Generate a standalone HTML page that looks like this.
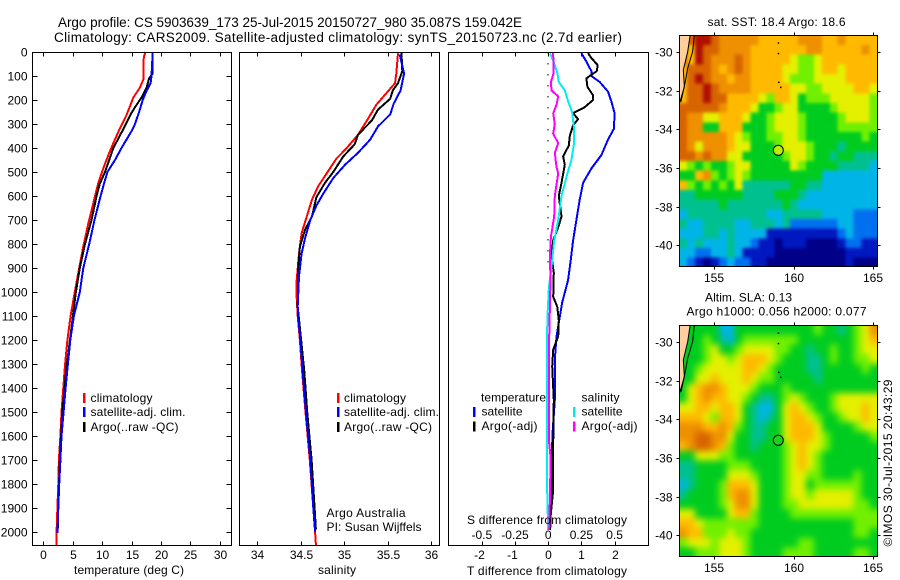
<!DOCTYPE html>
<html lang="en">
<head>
<meta charset="utf-8">
<title>Argo profile 5903639_173</title>
<style>
html,body{margin:0;padding:0;background:#fff;}
svg{display:block;}
text{font-family:"Liberation Sans",Arial,sans-serif;font-size:12px;fill:#000;}
.lg{font-size:12px;}
.crisp{shape-rendering:crispEdges;}
</style>
</head>
<body>
<svg id="chart" xmlns="http://www.w3.org/2000/svg" width="900" height="580" viewBox="0 0 900 580">
  <rect x="0" y="0" width="900" height="580" fill="#fff"/>
  <defs>
    <clipPath id="clip-sst"><rect x="679.5" y="35.5" width="198" height="231"/></clipPath>
    <clipPath id="clip-sla"><rect x="679.5" y="325.5" width="198" height="231"/></clipPath>
    <filter id="soft-sst" x="-5%" y="-5%" width="110%" height="110%" color-interpolation-filters="sRGB"><feGaussianBlur stdDeviation="1.6"/></filter>
    <filter id="soft-sla" x="-5%" y="-5%" width="110%" height="110%" color-interpolation-filters="sRGB"><feGaussianBlur stdDeviation="3.5"/></filter>
  </defs>

  <text x="58" y="27" style="font-size:13.5px" textLength="464" lengthAdjust="spacing">Argo profile: CS 5903639_173 25-Jul-2015 20150727_980 35.087S 159.042E</text>
  <text x="54" y="42" style="font-size:13.5px" textLength="568" lengthAdjust="spacing">Climatology: CARS2009. Satellite-adjusted climatology: synTS_20150723.nc (2.7d earlier)</text>

  <g id="panels"></g>
  <g id="maps"></g>

  <text x="74" y="574" textLength="110" lengthAdjust="spacing">temperature (deg C)</text>
  <text x="318" y="574" textLength="38" lengthAdjust="spacing">salinity</text>
  <text x="467" y="575" textLength="160" lengthAdjust="spacing">T difference from climatology</text>
  <text x="467" y="524" textLength="160" lengthAdjust="spacing">S difference from climatology</text>

  <g>
    <rect class="crisp" x="83" y="393" width="2.5" height="10" fill="#f00"/>
    <rect class="crisp" x="83" y="407" width="2.5" height="10" fill="#00f"/>
    <rect class="crisp" x="83" y="422" width="2.5" height="10" fill="#000"/>
    <text x="90.5" y="402" textLength="62" lengthAdjust="spacing">climatology</text>
    <text x="90.5" y="416" textLength="95" lengthAdjust="spacing">satellite-adj. clim.</text>
    <text x="90.5" y="431" textLength="88" lengthAdjust="spacing">Argo(..raw -QC)</text>
  </g>
  <g>
    <rect class="crisp" x="337" y="393" width="2.5" height="10" fill="#f00"/>
    <rect class="crisp" x="337" y="407" width="2.5" height="10" fill="#00f"/>
    <rect class="crisp" x="337" y="422" width="2.5" height="10" fill="#000"/>
    <text x="344" y="402" textLength="62" lengthAdjust="spacing">climatology</text>
    <text x="344" y="416" textLength="95" lengthAdjust="spacing">satellite-adj. clim.</text>
    <text x="344" y="431" textLength="88" lengthAdjust="spacing">Argo(..raw -QC)</text>
  </g>
  <text x="326.5" y="517" textLength="79" lengthAdjust="spacing">Argo Australia</text>
  <text x="326.5" y="531" textLength="95" lengthAdjust="spacing">PI: Susan Wijffels</text>

  <g>
    <text x="481" y="401.5" textLength="65" lengthAdjust="spacing">temperature</text>
    <rect class="crisp" x="473" y="407" width="2.5" height="10" fill="#00f"/>
    <rect class="crisp" x="473" y="421.5" width="2.5" height="10" fill="#000"/>
    <text x="481.5" y="415.5" textLength="41" lengthAdjust="spacing">satellite</text>
    <text x="481.5" y="430" textLength="56" lengthAdjust="spacing">Argo(-adj)</text>
    <text x="581.5" y="401.5" textLength="38" lengthAdjust="spacing">salinity</text>
    <rect class="crisp" x="573" y="407" width="2.5" height="10" fill="#00e8e8"/>
    <rect class="crisp" x="573" y="421.5" width="2.5" height="10" fill="#f0f"/>
    <text x="581.5" y="415.5" textLength="41" lengthAdjust="spacing">satellite</text>
    <text x="581.5" y="430" textLength="56" lengthAdjust="spacing">Argo(-adj)</text>
  </g>

  <text x="707.5" y="26" textLength="138" lengthAdjust="spacing">sat. SST: 18.4  Argo: 18.6</text>
  <text x="705" y="301.5" textLength="87" lengthAdjust="spacing">Altim. SLA: 0.13</text>
  <text x="686.5" y="315.5" textLength="180" lengthAdjust="spacing">Argo h1000: 0.056 h2000: 0.077</text>
  <text transform="translate(892,546.5) rotate(-90)" textLength="167" lengthAdjust="spacing">©IMOS 30-Jul-2015 20:43:29</text>
</svg>

<script>
// ---------- Profile data: depth (dbar) and matching values ----------
const depthTicks = [0,100,200,300,400,500,600,700,800,900,1000,1100,1200,1300,1400,1500,1600,1700,1800,1900,2000];
const tempTicks = [0,5,10,15,20,25,30];
const salTicks = [34,34.5,35,35.5,36];
const salTickLabels = ['34','34.5','35','35.5','36'];
const tDiffTicks = [-2,-1,0,1,2];
const sDiffTicks = [-0.5,-0.25,0,0.25,0.5];
const sDiffTickLabels = ['-0.5','-0.25','0','0.25','0.5'];

const tempClimDepth = [0,20,115,150,190,260,320,380,430,485,545,630,715,810,920,1020,1100,1200,1300,1400,1500,1600,1700,1800,1900,2000,2054];
const tempClim = [17.4,17.1,17.0,16.4,15.3,14.2,13.0,11.9,11.05,10.2,9.35,8.5,7.65,6.8,5.95,5.2,4.65,4.1,3.7,3.4,3.1,2.9,2.66,2.55,2.4,2.27,2.27];
const tempSatDepth = [0,100,130,160,200,250,300,330,400,450,500,550,600,700,800,900,1000,1100,1200,1325,1400,1500,1600,1700,1800,1900,2005];
const tempSat = [18.6,18.4,18.25,17.6,16.9,16.3,15.6,15.0,13.3,12.2,10.9,10.3,9.75,8.7,7.8,6.8,6.2,5.2,4.6,4.08,3.8,3.45,3.1,2.9,2.7,2.55,2.4];
const tempArgoDepth = [0,90,110,150,190,230,260,300,350,400,450,500,550,600,700,800,900,1000,1325,1500,1700,1900,1995];
const tempArgo = [18.6,18.6,18.0,17.55,16.7,15.6,14.85,14.05,13.0,11.9,11.2,10.5,9.6,9.07,8.2,7.1,6.2,5.55,3.9,3.25,2.8,2.55,2.45];

const salClimDepth = [5,90,130,170,220,275,345,400,445,505,560,615,685,755,840,965,1000,1100,1200,1325,1500,1700,1900,2000,2054];
const salClim = [35.62,35.60,35.585,35.49,35.37,35.28,35.16,35.03,34.91,34.80,34.70,34.63,34.57,34.51,34.48,34.45,34.45,34.465,34.49,34.515,34.555,34.605,34.645,34.665,34.675];
const salSatDepth = [10,90,160,215,260,310,365,420,470,525,590,640,700,775,840,935,1060,1100,1200,1325,1500,1700,1900,2000];
const salSat = [35.64,35.69,35.65,35.57,35.53,35.39,35.30,35.16,35.01,34.875,34.76,34.68,34.61,34.55,34.51,34.48,34.465,34.47,34.495,34.52,34.56,34.61,34.645,34.665];
const salArgoDepth = [5,80,130,160,195,240,285,345,385,435,500,545,605,685,740,810,910,1060,1325,1500,1700,1900,1990];
const salArgo = [35.66,35.67,35.62,35.56,35.53,35.39,35.32,35.16,35.12,34.99,34.875,34.78,34.68,34.63,34.55,34.49,34.47,34.465,34.54,34.575,34.625,34.66,34.675];

const dtSatDepth = [5,40,80,100,125,165,205,255,320,365,430,485,545,615,700,785,865,950,1045,1103,1185,1283,1450,1590,1728,1867,1992];
const dtSat = [1.0,1.15,1.3,1.3,1.55,1.8,1.9,2.0,1.98,1.8,1.6,1.3,1.05,0.95,0.85,0.75,0.68,0.6,0.42,0.35,0.25,0.2,0.2,0.13,0.1,0.08,0.06];
const dtArgoDepth = [5,25,55,80,95,110,145,180,200,230,255,280,305,350,390,435,470,545,600,685,730,785,850,920,1020,1061,1117,1185,1240,1310,1450,1630,1825,1920,1990];
const dtArgo = [1.2,1.3,1.49,1.46,1.3,1.15,1.18,1.35,1.35,1.1,0.75,0.9,0.75,0.65,0.62,0.45,0.5,0.4,0.32,0.4,0.3,0.15,0.1,0.17,0.15,0.27,0.32,0.3,0.15,0.12,0.17,0.15,0.15,0.08,0.05];
const dsSatDepth = [5,40,90,125,160,205,250,320,380,450,505,600,700,785,895,980,1100,1207,1450,1728,1853,1992];
const dsSat = [0.0125,0.04,0.07,0.08,0.125,0.15,0.18,0.195,0.195,0.175,0.145,0.10,0.075,0.045,0.025,0.005,-0.005,-0.01,-0.01,-0.01,-0.007,0];
const dsArgoDepth = [5,90,125,160,185,220,255,300,340,380,420,480,505,600,685,770,850,950,1060,1185,1450,1617,1686,1800,1992];
const dsArgo = [0.0375,0.04,0.02,0.025,0.075,0.0625,0.0375,0.05,0.0375,0.075,0.05,0.0625,0.075,0.05,0.045,0.02,0.0125,0.0175,0.0125,0.0075,0.0075,0.005,0.0175,0.015,0.0075];

// ---------- Map data: colour level of each half-degree cell, rows north to south ----------
const lonTicks = [155,160,165];
const latTicks = [-30,-32,-34,-36,-38,-40];
const sstLevels = [
 [10,10,11,11,10,9,9,9,9,9,8,8,8,8,8,9,9,9,8,8,9,8,8,8,8],
 [10,8,11,10,10,9,9,9,9,8,8,8,8,8,8,8,9,9,8,8,8,8,8,9,8],
 [10,8,11,10,9,9,9,10,9,8,8,8,8,8,7,6,6,7,8,8,8,8,8,8,8],
 [8,10,10,10,9,8,9,10,9,8,8,8,8,7,7,6,6,7,8,8,7,8,8,8,8],
 [8,10,11,10,9,9,8,9,9,8,8,8,8,7,6,6,6,7,7,7,7,8,8,8,8],
 [8,10,10,11,10,9,9,9,9,8,8,8,8,8,7,7,6,6,7,7,7,7,8,8,7],
 [8,10,10,11,10,10,8,8,8,8,7,6,8,8,7,5,6,6,6,7,7,7,7,7,6],
 [10,10,10,10,10,9,8,8,8,7,5,5,6,7,7,5,5,5,5,6,7,7,7,7,6],
 [10,9,9,7,7,8,8,8,7,5,5,6,7,7,7,6,5,5,5,5,6,7,7,7,6],
 [10,9,9,5,5,8,8,8,5,5,5,6,7,7,7,6,5,5,5,5,6,6,6,6,6],
 [10,9,9,9,9,9,8,7,6,5,5,6,6,7,7,6,5,5,5,5,5,5,5,6,5],
 [10,9,7,9,9,9,8,7,7,5,5,5,6,7,7,7,6,5,5,5,4,5,5,5,5],
 [10,10,9,10,9,9,7,7,5,5,5,5,5,6,7,7,6,5,5,4,5,5,4,4,4],
 [7,6,5,6,5,5,6,7,7,5,5,5,5,5,7,6,5,5,5,5,4,4,4,4,3],
 [5,5,8,9,6,5,6,7,6,5,5,5,5,5,5,5,5,5,3,3,3,3,3,3,3],
 [8,6,5,6,5,6,5,7,4,4,4,4,4,4,5,5,4,4,3,3,3,3,3,3,3],
 [4,4,5,5,5,5,5,5,4,4,4,4,5,5,5,4,3,3,3,3,3,3,3,3,3],
 [4,4,4,4,4,5,4,4,4,4,4,4,4,5,4,3,3,3,3,3,3,3,3,3,3],
 [3,4,4,4,4,4,4,4,4,4,4,3,3,4,4,4,4,4,3,3,3,3,2,2,2],
 [4,3,3,4,4,4,4,3,3,4,4,4,3,4,2,2,2,2,2,2,3,3,2,2,2],
 [3,3,3,4,4,3,4,3,3,3,3,1,1,1,1,1,1,1,1,1,2,3,2,2,2],
 [4,3,4,3,3,3,4,3,3,2,1,1,0,1,1,1,0,0,0,0,1,2,2,1,1],
 [3,3,2,2,3,3,4,3,1,1,1,1,0,0,0,0,0,0,0,0,0,1,1,1,1],
 [3,2,1,0,1,2,3,2,2,1,1,0,0,0,0,0,0,0,0,0,0,1,0,0,0]
];
const slaLevels = [
 [5,5,5,5,5,3,3,5,5,5,5,5,5,5,5,5,5,6,5,5,4,5,6,7,9],
 [5,5,5,6,5,4,3,5,6,6,6,6,6,6,6,5,5,5,5,5,5,5,6,7,8],
 [5,5,5,6,7,5,5,6,7,7,7,7,6,6,5,5,4,5,5,6,5,5,6,7,7],
 [5,5,5,6,7,7,6,7,8,8,8,7,6,5,5,5,4,4,5,6,5,5,6,6,7],
 [5,5,6,7,7,7,7,7,8,8,7,6,5,5,5,5,4,4,5,5,5,5,5,6,5],
 [5,5,7,7,8,7,7,7,8,7,6,6,5,5,5,5,5,4,5,5,5,5,5,5,5],
 [5,7,8,9,9,8,7,7,7,6,5,5,5,6,5,5,5,5,5,5,5,5,5,5,5],
 [5,7,8,9,8,8,7,7,6,5,4,4,5,6,7,6,5,5,5,6,7,7,7,7,7],
 [7,7,8,8,7,8,8,7,5,4,3,3,5,7,8,7,6,5,5,6,7,7,7,8,7],
 [8,8,8,7,6,8,8,7,5,4,3,4,5,7,8,8,7,6,5,5,6,7,7,8,7],
 [9,9,9,8,8,9,8,6,5,4,4,5,5,7,8,8,8,7,5,5,5,5,6,7,7],
 [9,9,10,10,9,9,7,5,5,4,4,5,5,7,8,8,8,7,6,5,5,5,5,5,6],
 [8,9,10,10,9,8,6,5,5,4,5,5,5,6,7,8,7,7,6,5,5,5,5,5,5],
 [5,5,7,7,7,6,6,5,5,5,5,5,5,6,7,8,7,6,5,5,5,5,5,5,5],
 [4,4,5,5,5,5,6,6,6,5,5,5,5,6,7,8,7,6,5,5,5,5,5,5,5],
 [4,4,5,5,5,5,7,7,7,6,5,5,5,6,7,7,6,6,5,5,5,5,6,5,5],
 [3,4,5,5,5,6,8,8,8,7,5,5,5,6,7,7,5,6,6,6,6,6,6,5,5],
 [4,5,5,5,5,6,8,9,9,7,5,5,5,6,7,7,6,7,7,7,7,7,6,5,5],
 [5,5,5,5,5,6,7,9,9,7,5,5,5,6,6,7,7,7,7,7,7,7,6,6,5],
 [7,7,5,5,5,5,7,8,8,6,5,5,5,5,6,6,6,6,6,6,6,6,6,6,6],
 [8,8,7,6,6,6,6,6,6,6,5,5,5,5,5,5,5,5,5,5,5,5,6,6,6],
 [9,8,8,6,6,6,7,6,6,5,5,5,5,5,5,5,5,5,5,5,5,5,6,6,5],
 [6,7,7,7,6,7,7,7,6,5,5,5,5,5,5,6,6,5,5,5,5,5,5,5,5],
 [5,5,6,6,6,7,7,7,6,5,5,5,5,6,6,6,6,5,5,5,5,5,6,6,5]
];
const coastLon = [153.47,153.32,153.04,153.11,152.79];
const coastLat = [-29.14,-29.98,-30.93,-31.79,-32.69];
const shelfLon = [153.74,153.63,153.32,153.17,152.9];
const shelfLat = [-29.14,-29.98,-30.84,-31.53,-32.57];
const islandLon = [159.0,159.0,159.02,159.15];
const islandLat = [-29.5,-30.04,-31.53,-31.79];
const argoLon = [159.042];
const argoLat = [-35.087];
const levelColors = ['#000088','#0018c0','#0070f0','#00b4e8','#00c090','#00cc20','#70f000','#e4f000','#ffba00','#ee9000','#d86400','#b01000'];

// ---------- Axis functions ----------
const yDepth = d => 52 + d * 0.24;
const xTemp = t => 43.3 + t * 5.88;
const xSal = s => 257.3 + (s - 34) * 86.85;
const xDT = t => 548.2 + t * 33.2;
const xDS = s => 548.2 + s * 132.8;
const xLon = lon => 714.3 + (lon - 155) * 15.84;
const ySst = lat => 52 + (-30 - lat) * 19.33;
const ySla = lat => 342 + (-30 - lat) * 19.33;

const NS = 'http://www.w3.org/2000/svg';
const panels = document.getElementById('panels');
const maps = document.getElementById('maps');

function mk(tag, attrs, parent) {
  const el = document.createElementNS(NS, tag);
  for (const k in attrs) el.setAttribute(k, attrs[k]);
  parent.appendChild(el);
  return el;
}

function tickLine(x1, y1, x2, y2, parent) {
  const el = mk('line', {x1: x1, y1: y1, x2: x2, y2: y2, stroke: '#000', 'stroke-width': 1, 'shape-rendering': 'crispEdges'}, parent);
  
  
}

function tickLabel(str, x, y, anchor, parent) {
  const el = mk('text', {x: x, y: y, 'text-anchor': anchor}, parent);
  el.textContent = str;
  
  
}

function frame(x0, y0, x1, y1, parent) {
  const el = mk('rect', {x: x0, y: y0, width: x1 - x0, height: y1 - y0, fill: 'none', stroke: '#000', 'stroke-width': 1, 'shape-rendering': 'crispEdges'}, parent);
  
  
}

function profile(xs, depths, xFn, color, width, name, parent) {
  const pts = xs.map((v, i) => xFn(v).toFixed(1) + ',' + yDepth(depths[i]).toFixed(1)).join(' ');
  const el = mk('polyline', {points: pts, fill: 'none', stroke: color, 'stroke-width': width, 'stroke-linejoin': 'round', 'shape-rendering': 'crispEdges'}, parent);
  
  
}

// ---------- Panel 1: temperature ----------
const P1 = {l: 32.5, r: 231.5, t: 52.5, b: 545.5};
depthTicks.forEach(d => {
  const y = Math.round(yDepth(d)) + 0.5;
  tickLine(P1.l, y, P1.l + 5, y, panels);
  tickLine(P1.r - 5, y, P1.r, y, panels);
  tickLabel(String(d), 27.5, y + 4, 'end', panels);
});
tempTicks.forEach(t => {
  const x = Math.round(xTemp(t)) + 0.5;
  tickLine(x, P1.t, x, P1.t + 4, panels);
  tickLine(x, P1.b - 4, x, P1.b, panels);
  tickLabel(String(t), x, 559, 'middle', panels);
});
profile(tempClim, tempClimDepth, xTemp, '#f00', 2, 'temperature-climatology-line', panels);
profile(tempArgo, tempArgoDepth, xTemp, '#000', 2, 'temperature-argo-line', panels);
profile(tempSat, tempSatDepth, xTemp, '#00f', 2, 'temperature-satellite-line', panels);
frame(P1.l, P1.t, P1.r, P1.b, panels);

// ---------- Panel 2: salinity ----------
const P2 = {l: 239.5, r: 439.5, t: 52.5, b: 545.5};
salTicks.forEach((s, i) => {
  const x = Math.round(xSal(s)) + 0.5;
  tickLine(x, P2.t, x, P2.t + 4, panels);
  tickLine(x, P2.b - 4, x, P2.b, panels);
  tickLabel(salTickLabels[i], x, 559, 'middle', panels);
});
profile(salClim, salClimDepth, xSal, '#f00', 2, 'salinity-climatology-line', panels);
profile(salArgo, salArgoDepth, xSal, '#000', 2, 'salinity-argo-line', panels);
profile(salSat, salSatDepth, xSal, '#00f', 2, 'salinity-satellite-line', panels);
frame(P2.l, P2.t, P2.r, P2.b, panels);

// ---------- Panel 3: differences ----------
const P3 = {l: 448.5, r: 648.5, t: 52.5, b: 545.5};
const zeroLine = mk('line', {x1: xDT(0), y1: 52, x2: xDT(0), y2: yDepth(900), stroke: '#000', 'stroke-width': 1, 'stroke-dasharray': '1.5 9.5', 'shape-rendering': 'crispEdges'}, panels);


tDiffTicks.forEach(t => {
  const x = Math.round(xDT(t)) + 0.5;
  tickLine(x, P3.t, x, P3.t + 4, panels);
  tickLine(x, P3.b - 4, x, P3.b, panels);
  tickLabel(String(t), x - (t < 0 ? 3 : 0), 559, 'middle', panels);
});
sDiffTicks.forEach((s, i) => {
  tickLabel(sDiffTickLabels[i], xDS(s), 539, 'middle', panels);
});
profile(dtSat, dtSatDepth, xDT, '#00f', 2, 'difference-t-satellite-line', panels);
profile(dtArgo, dtArgoDepth, xDT, '#000', 2, 'difference-t-argo-line', panels);
profile(dsSat, dsSatDepth, xDS, '#00eeee', 2, 'difference-s-satellite-line', panels);
profile(dsArgo, dsArgoDepth, xDS, '#f0f', 2, 'difference-s-argo-line', panels);
frame(P3.l, P3.t, P3.r, P3.b, panels);

// ---------- Maps ----------
const LON0 = 152.79, LAT0 = -29.14, CELL = 0.5;

function drawMap(levels, yFn, clipId, filterId, markerFill, top, bottom, cellName) {
  const g = mk('g', {'clip-path': 'url(#' + clipId + ')'}, maps);
  
  
  const cells = mk('g', {filter: 'url(#' + filterId + ')'}, g);
  
  
  const lastRow = levels.length - 1;
  levels.forEach((row, r) => {
    const lastCol = row.length - 1;
    row.forEach((v, c) => {
      let x0 = xLon(LON0 + c * CELL), x1 = xLon(LON0 + (c + 1) * CELL);
      let y0 = yFn(LAT0 - r * CELL), y1 = yFn(LAT0 - (r + 1) * CELL);
      // edge cells bleed past the clip so the soft filter keeps full colour at the frame
      if (c === 0) x0 -= 14;
      if (c === lastCol) x1 += 14;
      if (r === 0) y0 -= 14;
      if (r === lastRow) y1 += 14;
      const cell = mk('rect', {x: x0.toFixed(1), y: y0.toFixed(1), width: (x1 - x0 + 0.5).toFixed(1), height: (y1 - y0 + 0.5).toFixed(1), fill: levelColors[v], 'shape-rendering': 'crispEdges'}, cells);
      
      
    });
  });
  const landPts = coastLon.map((lon, i) => xLon(lon).toFixed(1) + ',' + yFn(coastLat[i]).toFixed(1));
  landPts.push(xLon(LON0 - 0.05).toFixed(1) + ',' + yFn(coastLat[coastLat.length - 1]).toFixed(1));
  landPts.push(xLon(LON0 - 0.05).toFixed(1) + ',' + yFn(LAT0 + 0.05).toFixed(1));
  const land = mk('polygon', {points: landPts.join(' '), fill: '#ffcfa0'}, g);
  
  
  const coast = mk('polyline', {points: coastLon.map((lon, i) => xLon(lon).toFixed(1) + ',' + yFn(coastLat[i]).toFixed(1)).join(' '), fill: 'none', stroke: '#000', 'stroke-width': 1}, g);
  
  
  const shelf = mk('polyline', {points: shelfLon.map((lon, i) => xLon(lon).toFixed(1) + ',' + yFn(shelfLat[i]).toFixed(1)).join(' '), fill: 'none', stroke: '#000', 'stroke-width': 1}, g);
  
  
  islandLon.forEach((lon, i) => {
    const isl = mk('rect', {x: xLon(lon).toFixed(1), y: yFn(islandLat[i]).toFixed(1), width: 1.5, height: 1.5, fill: '#000'}, g);
    
    
  });
  const marker = mk('circle', {cx: xLon(argoLon[0]).toFixed(1), cy: yFn(argoLat[0]).toFixed(1), r: 5, fill: markerFill, stroke: '#000', 'stroke-width': 1}, maps);
  
  
  lonTicks.forEach(lon => {
    const x = Math.round(xLon(lon)) + 0.5;
    tickLine(x, top - 3, x, top, maps);
    tickLine(x, bottom, x, bottom + 3, maps);
    tickLabel(String(lon), x - 0.5, bottom + 15.5, 'middle', maps);
  });
  latTicks.forEach(lat => {
    const y = Math.round(yFn(lat)) + 0.5;
    tickLine(679.5, y, 676.5, y, maps);
    tickLine(877.5, y, 880.5, y, maps);
    tickLabel(String(lat), 672.5, y + 4, 'end', maps);
  });
  frame(679.5, top, 877.5, bottom, maps);
}

drawMap(sstLevels, ySst, 'clip-sst', 'soft-sst', '#b8f000', 35.5, 266.5, 'sst');
drawMap(slaLevels, ySla, 'clip-sla', 'soft-sla', '#20d020', 325.5, 556.5, 'sla');
</script>
</body>
</html>
